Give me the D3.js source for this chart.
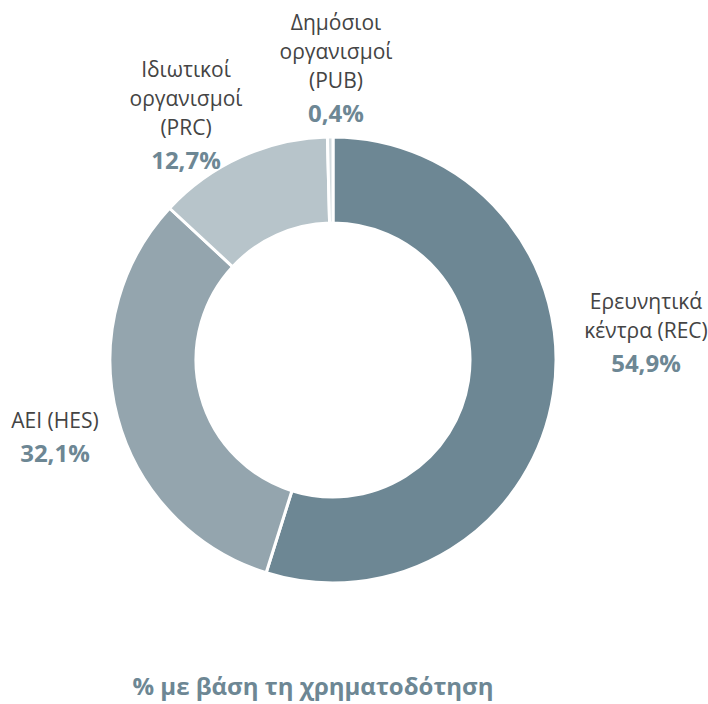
<!DOCTYPE html>
<html>
<head>
<meta charset="utf-8">
<script src="https://cdn.jsdelivr.net/npm/d3@7"></script>
<style>
  body { margin: 0; background: #fff; }
  text { font-family: "Open Sans", sans-serif; }
</style>
</head>
<body>
<div id="chart"></div>
<script>
// data
var categories = ["REC", "HES", "PRC", "PUB"];
var labels = [["Ερευνητικά", "κέντρα (REC)"], ["ΑΕΙ (HES)"], ["Ιδιωτικοί", "οργανισμοί", "(PRC)"], ["Δημόσιοι", "οργανισμοί", "(PUB)"]];
var values = [54.9, 32.1, 12.7, 0.4];
var valueLabels = ["54,9%", "32,1%", "12,7%", "0,4%"];
var colors = ["#6d8794", "#94a5ae", "#b7c4ca", "#d3dbdf"];
// label anchor (centre x, baseline of value line)
var labelPos = [[646, 372], [55, 462], [186, 169], [336, 122]];

var width = 708, height = 704;
var cx = 333, cy = 360, outerR = 223, innerR = 137;

var svg = d3.select("#chart")
    .append("svg")
    .attr("width", width)
    .attr("height", height);

var data = categories.map(function(c, i) {
    return { cat: c, value: values[i], label: labels[i], vl: valueLabels[i], color: colors[i], pos: labelPos[i] };
});

var pie = d3.pie()
    .sort(null)
    .value(function(d) { return d.value; });

var arc = d3.arc()
    .innerRadius(innerR)
    .outerRadius(outerR);

var g = svg.append("g")
    .attr("transform", "translate(" + cx + "," + cy + ")");

g.selectAll("path")
    .data(pie(data))
  .enter().append("path")
    .attr("d", arc)
    .style("fill", function(d) { return d.data.color; })
    .style("stroke", "#fff")
    .style("stroke-width", 3);

// labels
var lineH = 29;
data.forEach(function(d) {
    var t = svg.append("g");
    var n = d.label.length;
    d.label.forEach(function(line, j) {
        t.append("text")
            .attr("x", d.pos[0])
            .attr("y", d.pos[1] - (n - j) * lineH - 5)
            .attr("text-anchor", "middle")
            .style("font-size", "21px")
            .style("fill", "#444")
            .text(line);
    });
    t.append("text")
        .attr("x", d.pos[0])
        .attr("y", d.pos[1])
        .attr("text-anchor", "middle")
        .style("font-size", "24px")
        .style("font-weight", "bold")
        .style("fill", "#6d8794")
        .text(d.vl);
});

// title
svg.append("text")
    .attr("x", 313)
    .attr("y", 695)
    .attr("text-anchor", "middle")
    .style("font-size", "24px")
    .style("font-weight", "bold")
    .style("fill", "#6d8794")
    .text("% με βάση τη χρηματοδότηση");
</script>
</body>
</html>
